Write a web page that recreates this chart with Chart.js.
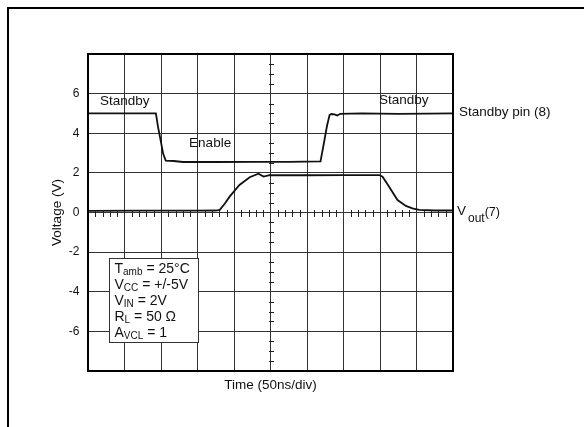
<!DOCTYPE html>
<html>
<head>
<meta charset="utf-8">
<script src="https://cdn.jsdelivr.net/npm/chart.js@4.4.0/dist/chart.umd.min.js"></script>
<style>
  html, body { margin: 0; padding: 0; background: #fff; }
  #wrap { width: 584px; height: 427px; position: relative; }
</style>
</head>
<body>
<div id="wrap"><canvas id="scope"></canvas></div>
<script>
// time is in divisions (50ns/div), voltage in volts
const yGrid = [-8, -6, -4, -2, 0, 2, 4, 6, 8];
const yTickLabels = [-6, -4, -2, 0, 2, 4, 6];

const standbyTime = [0, 1.0, 1.86, 1.92, 1.99, 2.06, 2.13, 2.35, 2.6, 3.5, 4.5, 5.5, 6.37, 6.46, 6.55, 6.62, 6.67, 6.75, 6.83, 6.91, 7.5, 8.5, 9.3, 10];
const standbyVolt = [5.0, 5.0, 5.0, 4.31, 3.64, 2.96, 2.62, 2.6, 2.55, 2.55, 2.56, 2.56, 2.58, 3.47, 4.39, 4.93, 4.97, 4.95, 4.9, 4.98, 5.0, 4.98, 4.99, 5.0];

const voutTime = [0, 1.5, 3.0, 3.5, 3.61, 3.75, 3.88, 4.15, 4.43, 4.67, 4.81, 4.97, 6.0, 7.0, 7.98, 8.07, 8.25, 8.48, 8.71, 8.89, 9.07, 9.5, 10];
const voutVolt = [0.08, 0.09, 0.09, 0.1, 0.13, 0.45, 0.8, 1.39, 1.78, 1.96, 1.81, 1.89, 1.88, 1.89, 1.89, 1.81, 1.3, 0.63, 0.33, 0.21, 0.13, 0.1, 0.1];

const conditions = [
  ['T', 'amb', ' = 25°C'],
  ['V', 'CC', ' = +/-5V'],
  ['V', 'IN', ' = 2V'],
  ['R', 'L', ' = 50 Ω'],
  ['A', 'VCL', ' = 1']
];

const FONT = "'Liberation Sans', Arial, sans-serif";

function pts(xs, ys) {
  return xs.map((x, i) => ({ x: x, y: ys[i] }));
}

function subText(ctx, x, y, main, sub, rest, size, subSize) {
  ctx.font = size + 'px ' + FONT;
  ctx.fillText(main, x, y);
  x += ctx.measureText(main).width;
  ctx.font = subSize + 'px ' + FONT;
  ctx.fillText(sub, x, y + 2);
  x += ctx.measureText(sub).width;
  ctx.font = size + 'px ' + FONT;
  ctx.fillText(rest, x, y);
}

const scopeDecor = {
  id: 'scopeDecor',
  beforeDraw(chart) {
    const ctx = chart.ctx;
    ctx.save();
    ctx.fillStyle = '#000';
    ctx.fillRect(7, 7, chart.width - 7, 2);
    ctx.fillRect(7, 7, 2, chart.height - 7);
    ctx.restore();
  },
  afterDatasetsDraw(chart) {
    const ctx = chart.ctx;
    const xs = chart.scales.x, ys = chart.scales.y;
    const area = chart.chartArea;
    ctx.save();

    // minor ticks on the centre axes
    ctx.strokeStyle = '#222';
    ctx.lineWidth = 1;
    ctx.beginPath();
    const y0 = Math.round(ys.getPixelForValue(0)) + 0.5;
    for (let i = 1; i < 50; i++) {
      if (i % 5 === 0) continue;
      const px = Math.round(xs.getPixelForValue(i / 5)) + 0.5;
      ctx.moveTo(px, y0 - 3.5);
      ctx.lineTo(px, y0 + 3.5);
    }
    const xc = Math.round(xs.getPixelForValue(5)) + 0.5;
    for (let i = 1; i < 32; i++) {
      if (i % 4 === 0) continue;
      const py = Math.round(ys.getPixelForValue(-8 + i / 2)) + 0.5;
      ctx.moveTo(xc - 2.5, py);
      ctx.lineTo(xc + 2.5, py);
    }
    ctx.stroke();

    // plot frame
    ctx.strokeStyle = '#000';
    ctx.lineWidth = 2;
    ctx.strokeRect(area.left, area.top, area.right - area.left, area.bottom - area.top);

    // test conditions box
    const bl = Math.round(xs.getPixelForValue(0.58)) + 0.5;
    const br = Math.round(xs.getPixelForValue(3)) + 0.5;
    const bt = Math.round(ys.getPixelForValue(-2.28)) + 0.5;
    const bb = Math.round(ys.getPixelForValue(-6.55)) + 0.5;
    ctx.fillStyle = '#fff';
    ctx.fillRect(bl, bt, br - bl, bb - bt);
    ctx.strokeStyle = '#333';
    ctx.lineWidth = 1;
    ctx.strokeRect(bl, bt, br - bl, bb - bt);
    ctx.fillStyle = '#111';
    ctx.textBaseline = 'alphabetic';
    ctx.textAlign = 'left';
    conditions.forEach((c, i) => {
      subText(ctx, bl + 5, bt + 14 + i * 16, c[0], c[1], c[2], 14, 10);
    });

    // trace annotations
    ctx.font = '13.5px ' + FONT;
    ctx.textBaseline = 'middle';
    ctx.fillText('Standby', xs.getPixelForValue(0.33), ys.getPixelForValue(5.6));
    ctx.fillText('Enable', xs.getPixelForValue(2.77), ys.getPixelForValue(3.5));
    ctx.fillText('Standby', xs.getPixelForValue(7.97), ys.getPixelForValue(5.68));
    ctx.textBaseline = 'alphabetic';
    ctx.fillText('Standby pin (8)', area.right + 6, ys.getPixelForValue(5) + 3);
    const vy = ys.getPixelForValue(0) + 2;
    let vx = area.right + 4;
    ctx.font = '13.5px ' + FONT;
    ctx.fillText('V', vx, vy);
    vx += ctx.measureText('V').width + 2;
    ctx.font = '12px ' + FONT;
    ctx.fillText('out', vx, vy + 7);
    vx += ctx.measureText('out').width;
    ctx.font = '12.5px ' + FONT;
    ctx.fillText('(7)', vx, vy + 1);
    ctx.restore();
  }
};

new Chart(document.getElementById('scope'), {
  type: 'line',
  data: {
    datasets: [
      {
        label: 'Standby pin (8)',
        data: pts(standbyTime, standbyVolt),
        borderColor: '#111',
        borderWidth: 1.8,
        pointRadius: 0,
        tension: 0
      },
      {
        label: 'Vout (7)',
        data: pts(voutTime, voutVolt),
        borderColor: '#111',
        borderWidth: 1.8,
        pointRadius: 0,
        tension: 0
      }
    ]
  },
  options: {
    responsive: true,
    maintainAspectRatio: false,
    animation: false,
    layout: { padding: { top: 54, right: 131, left: 0, bottom: 0 } },
    plugins: {
      legend: { display: false },
      tooltip: { enabled: false }
    },
    scales: {
      x: {
        type: 'linear',
        min: 0,
        max: 10,
        ticks: { stepSize: 1, display: false },
        grid: { color: '#333', lineWidth: 1, drawTicks: false },
        border: { display: false },
        title: {
          display: true,
          text: 'Time (50ns/div)',
          color: '#111',
          font: { family: FONT, size: 13.5 },
          padding: { top: 0, bottom: 34 }
        },
        afterFit(scale) { scale.height = 56; }
      },
      y: {
        type: 'linear',
        min: -8,
        max: 8,
        afterBuildTicks(scale) { scale.ticks = yGrid.map(v => ({ value: v })); },
        ticks: {
          color: '#111',
          padding: 8.5,
          font: { family: FONT, size: 12 },
          callback: v => yTickLabels.includes(v) ? String(v) : ''
        },
        grid: { color: '#333', lineWidth: 1, drawTicks: false },
        border: { display: false },
        title: {
          display: true,
          text: 'Voltage (V)',
          color: '#111',
          font: { family: FONT, size: 13.5 },
          padding: { top: 49, bottom: 0 }
        },
        afterFit(scale) { scale.width = 88; }
      }
    }
  },
  plugins: [scopeDecor]
});
</script>
</body>
</html>
